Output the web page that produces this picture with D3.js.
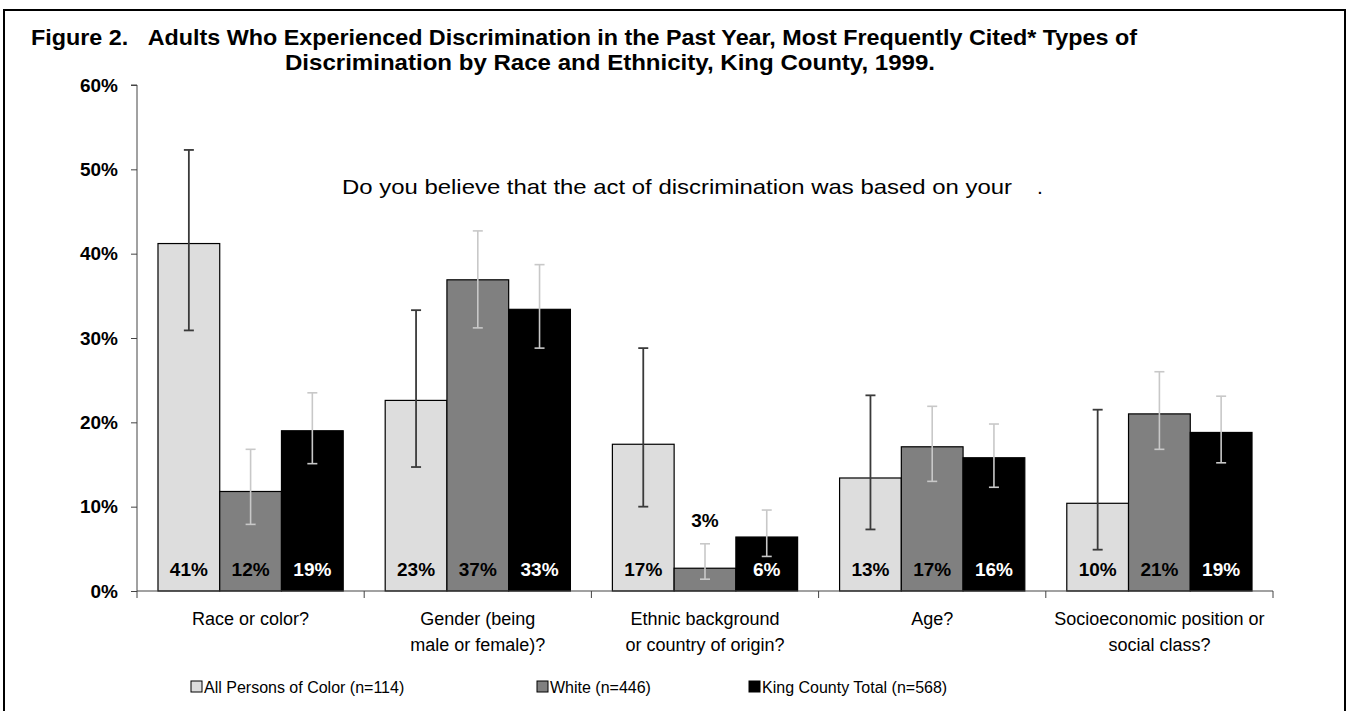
<!DOCTYPE html>
<html>
<head>
<meta charset="utf-8">
<script src="https://cdn.jsdelivr.net/npm/d3@7"></script>
<style>
  html, body { margin: 0; padding: 0; background: #fff; }
  svg { display: block; font-family: "Liberation Sans", Arial, sans-serif; }
</style>
</head>
<body>
<svg id="chart" width="1349" height="711"></svg>
<script>
// Discrimination types cited by adults, King County 1999
const categories = [
  ["Race or color?"],
  ["Gender (being", "male or female)?"],
  ["Ethnic background", "or country of origin?"],
  ["Age?"],
  ["Socioeconomic position or", "social class?"]
];
const seriesNames = ["All Persons of Color (n=114)", "White (n=446)", "King County Total (n=568)"];
const seriesColors = ["#dddddd", "#808080", "#000000"];
const errorColors = ["#3a3a3a", "#c8c8c8", "#c8c8c8"];
const labelColors = ["#000", "#000", "#fff"];

// percent values, one array per series (in category order)
const personsOfColor = [41.2, 22.6, 17.4, 13.4, 10.4];
const white = [11.8, 36.9, 2.7, 17.1, 21.0];
const kingCountyTotal = [19.0, 33.4, 6.4, 15.8, 18.8];

// 95% confidence interval bounds
const personsOfColorLow = [30.9, 14.7, 10.0, 7.3, 4.9];
const personsOfColorHigh = [52.3, 33.3, 28.8, 23.2, 21.5];
const whiteLow = [7.9, 31.2, 1.4, 13.0, 16.8];
const whiteHigh = [16.8, 42.7, 5.6, 21.9, 26.0];
const totalLow = [15.1, 28.8, 4.1, 12.3, 15.2];
const totalHigh = [23.5, 38.7, 9.6, 19.8, 23.1];

const yTicks = [0, 10, 20, 30, 40, 50, 60];

const values = [personsOfColor, white, kingCountyTotal];
const lows = [personsOfColorLow, whiteLow, totalLow];
const highs = [personsOfColorHigh, whiteHigh, totalHigh];

const svg = d3.select("#chart");

// outer frame
svg.append("rect")
  .attr("x", 4).attr("y", 10).attr("width", 1341).attr("height", 720)
  .attr("fill", "none").attr("stroke", "#000").attr("stroke-width", 2);

// title
const title = svg.append("g").attr("font-weight", "bold").attr("font-size", 22).attr("fill", "#000");
title.append("text").attr("x", 31).attr("y", 45)
  .attr("textLength", 1106).attr("lengthAdjust", "spacingAndGlyphs")
  .text("Figure 2.\u00a0\u00a0\u00a0Adults Who Experienced Discrimination in the Past Year, Most Frequently Cited* Types of");
title.append("text").attr("x", 285).attr("y", 70)
  .attr("textLength", 650).attr("lengthAdjust", "spacingAndGlyphs")
  .text("Discrimination by Race and Ethnicity, King County, 1999.");

const plot = { left: 137, right: 1273, top: 85, bottom: 591 };

const x = d3.scaleBand().domain(d3.range(categories.length)).range([plot.left, plot.right]).padding(0);
const xs = d3.scaleBand().domain(d3.range(seriesNames.length)).range([0, x.bandwidth()])
  .paddingInner(0).paddingOuter(0.34);
const y = d3.scaleLinear().domain([0, 60]).range([plot.bottom, plot.top]);

// question text
const q = svg.append("g").attr("font-size", 21);
q.append("text").attr("x", 342).attr("y", 194)
  .attr("textLength", 670).attr("lengthAdjust", "spacingAndGlyphs")
  .text("Do you believe that the act of discrimination was based on your");
q.append("text").attr("x", 1037).attr("y", 194).text(".");

// bars
const groups = svg.append("g").selectAll("g")
  .data(categories.map((c, i) => i))
  .join("g")
  .attr("transform", i => `translate(${x(i)},0)`);

const cells = groups.selectAll("g.cell")
  .data(i => seriesNames.map((s, k) => ({ i, k, v: values[k][i], lo: lows[k][i], hi: highs[k][i] })))
  .join("g").attr("class", "cell");

cells.append("rect")
  .attr("x", d => xs(d.k))
  .attr("y", d => y(d.v))
  .attr("width", xs.bandwidth())
  .attr("height", d => y(0) - y(d.v))
  .attr("fill", d => seriesColors[d.k])
  .attr("stroke", "#000").attr("stroke-width", 1.2);

// error bars
const eb = cells.append("g")
  .attr("stroke", d => errorColors[d.k])
  .attr("stroke-width", d => d.k === 0 ? 1.8 : 1.6);
const cx = d => xs(d.k) + xs.bandwidth() / 2;
eb.append("line")
  .attr("x1", cx).attr("x2", cx)
  .attr("y1", d => y(d.lo)).attr("y2", d => y(d.hi));
eb.append("line")
  .attr("x1", d => cx(d) - 5).attr("x2", d => cx(d) + 5)
  .attr("y1", d => y(d.lo)).attr("y2", d => y(d.lo));
eb.append("line")
  .attr("x1", d => cx(d) - 5).attr("x2", d => cx(d) + 5)
  .attr("y1", d => y(d.hi)).attr("y2", d => y(d.hi));

// value labels: near the base, or above the error bar when the bar is too short
const fmt = v => Math.round(v) + "%";
const isShort = d => (y(0) - y(d.v)) < 30;
cells.append("text")
  .attr("x", cx)
  .attr("y", d => isShort(d) ? y(d.hi) - 17 : y(0) - 15)
  .attr("text-anchor", "middle")
  .attr("font-weight", "bold").attr("font-size", 19)
  .attr("fill", d => isShort(d) ? "#000" : labelColors[d.k])
  .text(d => fmt(d.v));

// y axis
const yAxis = d3.axisLeft(y).tickValues(yTicks).tickFormat(d => d + "%").tickSize(6).tickPadding(13);
const ya = svg.append("g").attr("transform", `translate(${plot.left},0)`).call(yAxis);
ya.select(".domain").attr("d", `M-6,${plot.top}H0V${plot.bottom}`).attr("stroke", "#444");
ya.selectAll(".tick line").attr("stroke", "#444");
ya.selectAll(".tick text").attr("font-size", 19).attr("font-weight", "bold").attr("fill", "#000")
  .attr("font-family", "Liberation Sans, Arial, sans-serif");

// x axis with boundary ticks
const xa = svg.append("g");
xa.append("line").attr("x1", plot.left).attr("x2", plot.right)
  .attr("y1", plot.bottom).attr("y2", plot.bottom).attr("stroke", "#444").attr("stroke-width", 1.2);
xa.selectAll("line.tk")
  .data(d3.range(categories.length + 1))
  .join("line").attr("class", "tk")
  .attr("x1", i => plot.left + i * x.step()).attr("x2", i => plot.left + i * x.step())
  .attr("y1", plot.bottom).attr("y2", plot.bottom + 7)
  .attr("stroke", "#444");

const xl = svg.append("g").attr("font-size", 18).attr("text-anchor", "middle");
xl.selectAll("text")
  .data(categories.map((c, i) => ({ c, i })))
  .join("text")
  .attr("y", 625)
  .each(function (d) {
    d3.select(this).selectAll("tspan").data(d.c).join("tspan")
      .attr("x", x(d.i) + x.bandwidth() / 2)
      .attr("dy", (t, j) => j === 0 ? 0 : 26)
      .text(t => t);
  });

// legend
const legendX = [191, 537, 749];
const lg = svg.append("g").selectAll("g").data(seriesNames.map((s, k) => ({ s, k }))).join("g")
  .attr("transform", d => `translate(${legendX[d.k]},681)`);
lg.append("rect").attr("width", 11).attr("height", 11)
  .attr("fill", d => seriesColors[d.k]).attr("stroke", "#000").attr("stroke-width", 1);
lg.append("text").attr("x", 13).attr("y", 12).attr("font-size", 16).text(d => d.s);
</script>
</body>
</html>
